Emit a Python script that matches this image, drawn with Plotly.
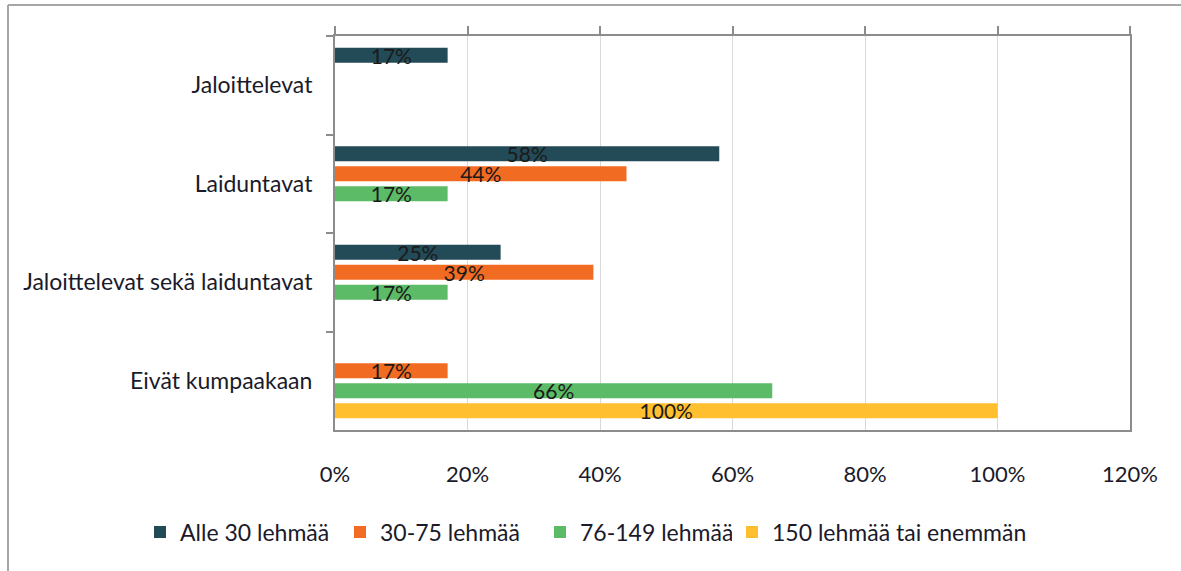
import plotly.graph_objects as go

categories = ["Jaloittelevat", "Laiduntavat", "Jaloittelevat sekä laiduntavat", "Eivät kumpaakaan"]
series_names = ["Alle 30 lehmää", "30-75 lehmää", "76-149 lehmää", "150 lehmää tai enemmän"]
alle_30 = [17, 58, 25, 0]
l_30_75 = [0, 44, 39, 17]
l_76_149 = [0, 17, 17, 66]
yli_150 = [0, 0, 0, 100]
x_ticks = [0, 20, 40, 60, 80, 100, 120]
colors = ["#234A57", "#F26B22", "#5CBB66", "#FFBF2E"]

FONT = "Lato"
fig = go.Figure()
for i, (name, vals, col) in enumerate(zip(series_names, [alle_30, l_30_75, l_76_149, yli_150], colors)):
    fig.add_trace(go.Bar(
        y=categories, x=vals, name=name, orientation="h",
        marker=dict(color=col, line=dict(width=0)),
        text=[f"{v}%" if v else "" for v in vals],
        textposition="inside", insidetextanchor="middle",
        textfont=dict(color="#1a1a1a", size=21, family=FONT),
        cliponaxis=False,
        legend="legend2" if i == 3 else "legend",
    ))

fig.add_trace(go.Scatter(x=[0], y=[categories[0]], xaxis="x2", mode="markers",
                         marker=dict(opacity=0), showlegend=False, hoverinfo="skip"))

L, R, T, B = 335, 51, 36, 141
W, H = 1181, 571
pw, ph = W - L - R, H - T - B

def px(x):
    return (x - L) / pw

def py(y):
    return 1 - (y - T) / ph

fig.update_layout(
    width=W, height=H,
    margin=dict(l=L, r=R, t=T, b=B, autoexpand=False),
    paper_bgcolor="white", plot_bgcolor="white",
    barmode="group", bargap=0.188, bargroupgap=0.25,
    font=dict(family=FONT, size=23, color="#1a1a2a"),
    uniformtext=dict(minsize=21, mode="show"),
    xaxis=dict(range=[0, 120], tickvals=x_ticks, ticktext=[f"{v}%" for v in x_ticks],
               showgrid=True, gridcolor="#D9D9D9", gridwidth=1,
               showline=True, linecolor="#8C8C8C", linewidth=2, zeroline=False,
               ticks="", ticklabelstandoff=24, tickfont=dict(size=22)),
    xaxis2=dict(overlaying="x", side="top", matches="x", range=[0, 120], tickvals=x_ticks,
                showticklabels=False, ticks="outside", ticklen=8, tickcolor="#8C8C8C",
                tickwidth=2, showline=True, linecolor="#8C8C8C", linewidth=2,
                showgrid=False, zeroline=False),
    yaxis=dict(autorange="reversed", showline=True, linecolor="#8C8C8C", linewidth=2,
               mirror=True, ticks="outside", tickson="boundaries", ticklen=7,
               tickcolor="#8C8C8C", tickwidth=2, ticklabelstandoff=16,
               tickfont=dict(size=23), showgrid=False),
    legend=dict(orientation="h", x=px(140), xanchor="left", y=py(532), yanchor="middle",
                font=dict(size=23), itemsizing="constant", traceorder="normal",
                entrywidth=155, entrywidthmode="pixels"),
    legend2=dict(orientation="h", x=px(732), xanchor="left", y=py(532), yanchor="middle",
                 font=dict(size=23), itemsizing="constant"),
    shapes=[
        dict(type="line", xref="paper", yref="paper", x0=px(8), x1=px(1181), y0=py(5), y1=py(5),
             line=dict(color="#A6A6A6", width=2)),
        dict(type="line", xref="paper", yref="paper", x0=px(8), x1=px(8), y0=py(5), y1=py(571),
             line=dict(color="#A6A6A6", width=2)),
    ],
    showlegend=True,
)

fig.write_html("out.html")
